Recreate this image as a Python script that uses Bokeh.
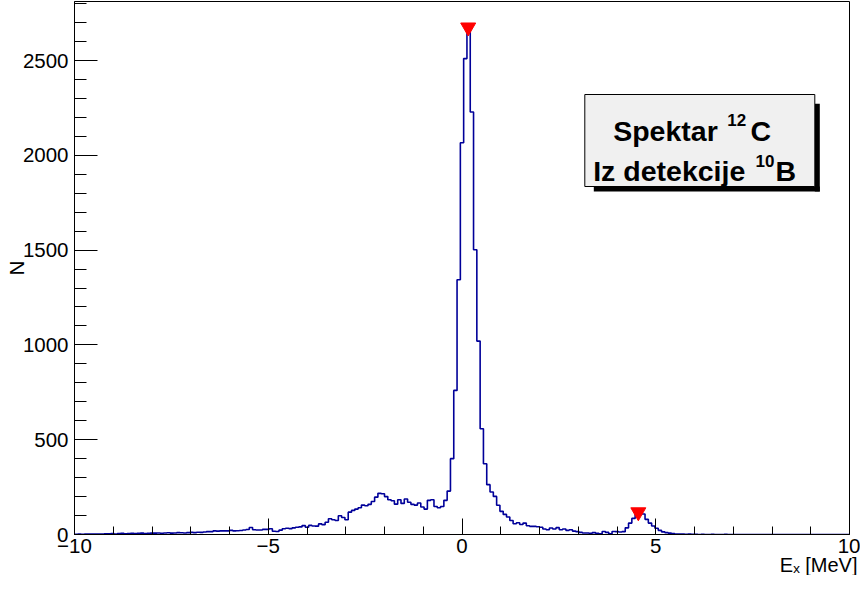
import numpy as np
from bokeh.plotting import figure
from bokeh.models import FixedTicker, Label, BoxAnnotation, Range1d, Title
from bokeh.embed import file_html
from bokeh.resources import INLINE

# ---------------- data ----------------
x_min, x_max = -10.0, 10.0
n_bins = 235
counts = [
    1, 2, 1, 2, 3, 2, 3, 3, 2, 4,
    4, 5, 3, 5, 6, 4, 5, 6, 5, 6,
    7, 5, 6, 7, 7, 8, 6, 8, 9, 7,
    8, 10, 9, 8, 10, 11, 10, 12, 11, 13,
    15, 15, 19, 18, 19, 19, 19, 22, 19, 20,
    21, 24, 26, 37, 25, 24, 24, 27, 27, 30,
    17, 16, 23, 30, 33, 31, 35, 38, 40, 47,
    38, 48, 45, 44, 56, 52, 65, 83, 78, 74,
    99, 90, 78, 118, 127, 134, 141, 155, 152, 159,
    174, 197, 217, 215, 200, 183, 178, 160, 183, 164,
    187, 170, 159, 155, 166, 145, 134, 180, 183, 148,
    141, 148, 180, 229, 400, 760, 1344, 2066, 2510, 2675,
    2228, 1502, 1020, 558, 373, 263, 224, 201, 154, 122,
    106, 92, 74, 57, 62, 53, 60, 46, 43, 43,
    41, 38, 29, 25, 34, 29, 36, 25, 29, 22,
    25, 18, 15, 11, 8, 8, 6, 10, 6, 4,
    16, 11, 4, 16, 15, 13, 15, 35, 60, 85,
    108, 118, 108, 80, 60, 45, 33, 22, 14, 10,
    7, 5, 3, 2, 3, 1, 2, 1, 1, 0,
    1, 0, 0, 1, 0, 0, 0, 1, 0, 0,
    0, 0, 0, 0, 0, 0, 0, 0, 0, 0,
    0, 0, 0, 0, 0, 0, 0, 0, 0, 0,
    0, 0, 0, 0, 0, 0, 0, 0, 0, 0,
    0, 0, 0, 0, 0,
]
peak_x = [0.16, 4.55]
peak_y = [2675, 118]

x_ticks = [-10, -5, 0, 5, 10]
x_minor = [-9, -8, -7, -6, -4, -3, -2, -1, 1, 2, 3, 4, 6, 7, 8, 9]
x_tick_labels = {-10: "\u221210", -5: "\u22125", 0: "0", 5: "5", 10: "10"}
y_ticks = [0, 500, 1000, 1500, 2000, 2500]
y_minor = list(range(100, 2900, 100))

x_title = "E\u2093 [MeV]"
y_title = "N"
legend_line1 = ["Spektar", "12", "C"]
legend_line2 = ["Iz detekcije", "10", "B"]

# ---------------- layout ----------------
W, H = 860, 575
FL, FR = 74, 849      # frame left/right in canvas px
FT, FB = 1, 534       # frame top/bottom in canvas px (expected)
px_per_count = 0.1896
y_end = (FB - FT) / px_per_count

def dx(cx):
    return x_min + (cx - FL) * (x_max - x_min) / (FR - FL)

def dy(cy):
    return (FB - cy) / px_per_count

p = figure(width=W, height=H, output_backend="svg", toolbar_location=None,
           title=None,
           x_range=Range1d(x_min, x_max), y_range=Range1d(0, y_end),
           min_border_left=FL, min_border_right=W - FR,
           min_border_top=FT, min_border_bottom=H - FB)
p.background_fill_color = "white"
p.border_fill_color = "white"
p.outline_line_color = "black"
p.outline_line_width = 1
p.grid.visible = False

font = "Liberation Sans"

xa = p.xaxis[0]
xa.ticker = FixedTicker(ticks=x_ticks, minor_ticks=x_minor)
xa.major_label_overrides = x_tick_labels
xa.major_tick_in = 16
xa.major_tick_out = 0
xa.minor_tick_in = 8
xa.minor_tick_out = 0
xa.major_label_standoff = 4
xa.major_label_text_font = font
xa.major_label_text_font_size = "20.5px"
xa.major_label_text_color = "black"
xa.axis_line_color = "black"
xa.major_tick_line_color = "black"
xa.minor_tick_line_color = "black"

ya = p.yaxis[0]
ya.ticker = FixedTicker(ticks=y_ticks, minor_ticks=y_minor)
ya.major_tick_in = 23
ya.major_tick_out = 0
ya.minor_tick_in = 12
ya.minor_tick_out = 0
ya.major_label_standoff = 6
ya.major_label_text_font = font
ya.major_label_text_font_size = "20.5px"
ya.major_label_text_color = "black"
ya.axis_line_color = "black"
ya.major_tick_line_color = "black"
ya.minor_tick_line_color = "black"
ya.axis_label = y_title
ya.axis_label_text_font = font
ya.axis_label_text_font_size = "20.5px"
ya.axis_label_text_font_style = "normal"
ya.axis_label_text_color = "black"
ya.axis_label_standoff = -8

# x-axis title, right aligned under the axis
p.add_layout(Title(text=x_title, align="right", offset=-8, standoff=-8,
                   text_font=font, text_font_size="20px",
                   text_font_style="normal", text_color="black"), "below")

# histogram outline
edges = np.linspace(x_min, x_max, n_bins + 1)
step_x = list(edges)
step_y = list(counts) + [counts[-1]]
p.step(step_x, step_y, mode="after", line_color="#000099", line_width=1.6)

# peak markers
p.scatter(peak_x, peak_y, marker="inverted_triangle", size=15,
          fill_color="#ff0000", line_color="#ff0000")

# legend box with shadow
p.add_layout(BoxAnnotation(left=dx(593.3), right=dx(819.3), top=dy(186), bottom=dy(191),
                           fill_color="black", fill_alpha=1, line_color=None))
p.add_layout(BoxAnnotation(left=dx(814.3), right=dx(819.3), top=dy(103.3), bottom=dy(191),
                           fill_color="black", fill_alpha=1, line_color=None))
p.add_layout(BoxAnnotation(left=dx(584.3), right=dx(814.3), top=dy(94), bottom=dy(186),
                           fill_color="#f0f0f0", fill_alpha=1, line_color="black",
                           line_width=1, line_alpha=1))

def blabel(cx, cy, txt, size):
    p.add_layout(Label(x=dx(cx), y=dy(cy), text=txt, text_align="left",
                       text_baseline="alphabetic", text_font=font,
                       text_font_style="bold", text_font_size=size,
                       text_color="black"))

blabel(612.7, 130.7, legend_line1[0], "28.5px")
blabel(726.7, 119.5, legend_line1[1], "17px")
blabel(750.0, 130.7, legend_line1[2], "28.5px")
blabel(592.7, 170.7, legend_line2[0], "28.5px")
blabel(755.0, 160.0, legend_line2[1], "17px")
blabel(775.0, 170.7, legend_line2[2], "28.5px")

open("out.html", "w").write(file_html(p, INLINE))
